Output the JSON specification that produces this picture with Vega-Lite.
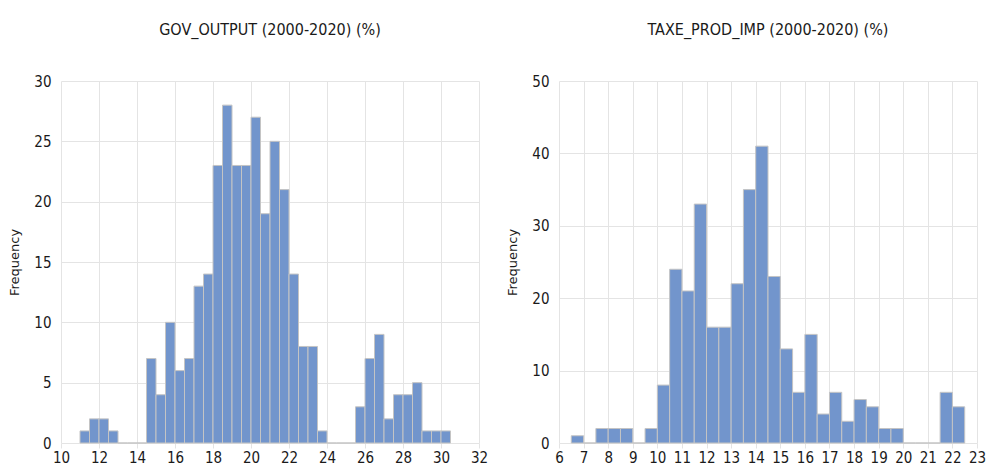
{
  "$schema": "https://vega.github.io/schema/vega-lite/v6.json",
  "background": "white",
  "padding": {"left": 8, "top": 22, "right": 5, "bottom": 0},
  "spacing": 18,
  "datasets": {
    "gov": [
      {"s": 11, "e": 11.5, "n": 1}, {"s": 11.5, "e": 12, "n": 2}, {"s": 12, "e": 12.5, "n": 2}, {"s": 12.5, "e": 13, "n": 1},
      {"s": 13, "e": 13.5, "n": 0}, {"s": 13.5, "e": 14, "n": 0}, {"s": 14, "e": 14.5, "n": 0}, {"s": 14.5, "e": 15, "n": 7},
      {"s": 15, "e": 15.5, "n": 4}, {"s": 15.5, "e": 16, "n": 10}, {"s": 16, "e": 16.5, "n": 6}, {"s": 16.5, "e": 17, "n": 7},
      {"s": 17, "e": 17.5, "n": 13}, {"s": 17.5, "e": 18, "n": 14}, {"s": 18, "e": 18.5, "n": 23}, {"s": 18.5, "e": 19, "n": 28},
      {"s": 19, "e": 19.5, "n": 23}, {"s": 19.5, "e": 20, "n": 23}, {"s": 20, "e": 20.5, "n": 27}, {"s": 20.5, "e": 21, "n": 19},
      {"s": 21, "e": 21.5, "n": 25}, {"s": 21.5, "e": 22, "n": 21}, {"s": 22, "e": 22.5, "n": 14}, {"s": 22.5, "e": 23, "n": 8},
      {"s": 23, "e": 23.5, "n": 8}, {"s": 23.5, "e": 24, "n": 1}, {"s": 24, "e": 24.5, "n": 0}, {"s": 24.5, "e": 25, "n": 0},
      {"s": 25, "e": 25.5, "n": 0}, {"s": 25.5, "e": 26, "n": 3}, {"s": 26, "e": 26.5, "n": 7}, {"s": 26.5, "e": 27, "n": 9},
      {"s": 27, "e": 27.5, "n": 2}, {"s": 27.5, "e": 28, "n": 4}, {"s": 28, "e": 28.5, "n": 4}, {"s": 28.5, "e": 29, "n": 5},
      {"s": 29, "e": 29.5, "n": 1}, {"s": 29.5, "e": 30, "n": 1}, {"s": 30, "e": 30.5, "n": 1}
    ],
    "tax": [
      {"s": 6.5, "e": 7, "n": 1}, {"s": 7, "e": 7.5, "n": 0}, {"s": 7.5, "e": 8, "n": 2}, {"s": 8, "e": 8.5, "n": 2},
      {"s": 8.5, "e": 9, "n": 2}, {"s": 9, "e": 9.5, "n": 0}, {"s": 9.5, "e": 10, "n": 2}, {"s": 10, "e": 10.5, "n": 8},
      {"s": 10.5, "e": 11, "n": 24}, {"s": 11, "e": 11.5, "n": 21}, {"s": 11.5, "e": 12, "n": 33}, {"s": 12, "e": 12.5, "n": 16},
      {"s": 12.5, "e": 13, "n": 16}, {"s": 13, "e": 13.5, "n": 22}, {"s": 13.5, "e": 14, "n": 35}, {"s": 14, "e": 14.5, "n": 41},
      {"s": 14.5, "e": 15, "n": 23}, {"s": 15, "e": 15.5, "n": 13}, {"s": 15.5, "e": 16, "n": 7}, {"s": 16, "e": 16.5, "n": 15},
      {"s": 16.5, "e": 17, "n": 4}, {"s": 17, "e": 17.5, "n": 7}, {"s": 17.5, "e": 18, "n": 3}, {"s": 18, "e": 18.5, "n": 6},
      {"s": 18.5, "e": 19, "n": 5}, {"s": 19, "e": 19.5, "n": 2}, {"s": 19.5, "e": 20, "n": 2}, {"s": 20, "e": 20.5, "n": 0},
      {"s": 20.5, "e": 21, "n": 0}, {"s": 21, "e": 21.5, "n": 0}, {"s": 21.5, "e": 22, "n": 7}, {"s": 22, "e": 22.5, "n": 5}
    ]
  },
  "config": {
    "view": {"stroke": null},
    "font": "DejaVu Sans Condensed, Liberation Sans, sans-serif",
    "axis": {
      "labelFont": "DejaVu Sans Condensed, Liberation Sans, sans-serif",
      "labelFontSize": 15,
      "labelColor": "#1a1a1a",
      "gridColor": "#e4e4e4",
      "gridWidth": 1,
      "domain": false,
      "ticks": false
    },
    "axisY": {
      "titleFont": "DejaVu Sans",
      "titleFontSize": 13,
      "titleFontWeight": "normal",
      "titleColor": "#1a1a1a",
      "labelPadding": 10,
      "titlePadding": 12
    },
    "axisX": {"ticks": true, "tickColor": "#e4e4e4", "tickSize": 5, "labelPadding": 2, "labelFlush": false},
    "title": {"font": "DejaVu Sans Condensed, Liberation Sans, sans-serif", "fontSize": 16, "fontWeight": "normal", "color": "#1a1a1a", "anchor": "middle", "offset": 36},
    "bar": {"fill": "#7295cc", "stroke": "#c4c4c4", "strokeWidth": 1}
  },
  "hconcat": [
    {
      "title": "GOV_OUTPUT (2000-2020) (%)",
      "width": 418,
      "height": 362,
      "data": {"name": "gov"},
      "mark": {"type": "bar"},
      "encoding": {
        "x": {"field": "s", "type": "quantitative", "scale": {"domain": [10, 32], "nice": false, "zero": false}, "axis": {"values": [10, 12, 14, 16, 18, 20, 22, 24, 26, 28, 30, 32], "title": null}},
        "x2": {"field": "e"},
        "y": {"field": "n", "type": "quantitative", "scale": {"domain": [0, 30], "nice": false}, "axis": {"values": [0, 5, 10, 15, 20, 25, 30], "title": "Frequency"}},
        "y2": {"datum": 0}
      }
    },
    {
      "title": "TAXE_PROD_IMP (2000-2020) (%)",
      "width": 418,
      "height": 362,
      "data": {"name": "tax"},
      "mark": {"type": "bar"},
      "encoding": {
        "x": {"field": "s", "type": "quantitative", "scale": {"domain": [6, 23], "nice": false, "zero": false}, "axis": {"values": [6, 7, 8, 9, 10, 11, 12, 13, 14, 15, 16, 17, 18, 19, 20, 21, 22, 23], "title": null}},
        "x2": {"field": "e"},
        "y": {"field": "n", "type": "quantitative", "scale": {"domain": [0, 50], "nice": false}, "axis": {"values": [0, 10, 20, 30, 40, 50], "title": "Frequency"}},
        "y2": {"datum": 0}
      }
    }
  ]
}
